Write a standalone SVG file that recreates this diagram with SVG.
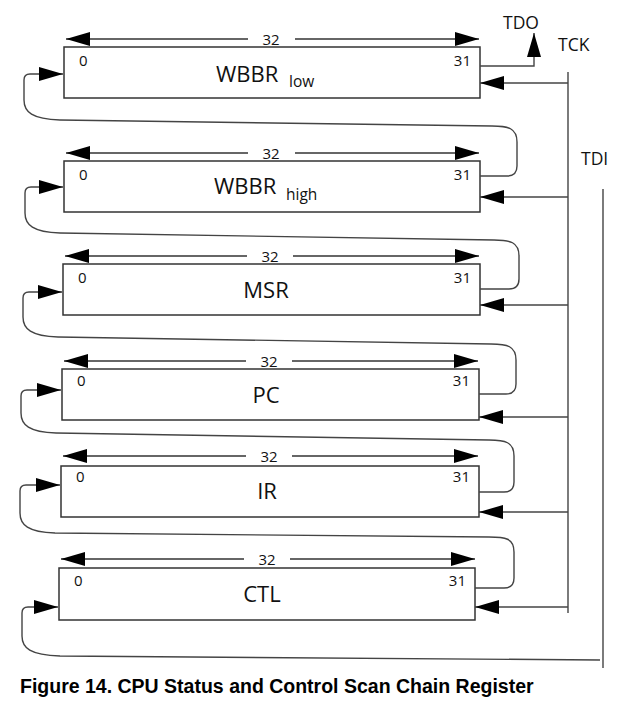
<svg xmlns="http://www.w3.org/2000/svg" width="625" height="710" viewBox="0 0 625 710">
<style>
.box{fill:#fff;stroke:#333;stroke-width:1.5}
.ln{fill:none;stroke:#444;stroke-width:1.4}
.ar{fill:none;stroke:#444;stroke-width:1.4;marker-end:url(#ah)}
.dim{fill:none;stroke:#333;stroke-width:1.3}
.t{font-family:"Open Sans","Noto Sans",sans-serif;fill:#111}
.n{font-size:15px}
.lb{font-size:22px;text-anchor:middle}
.sub{font-size:15.5px}
.sig{font-size:17.5px}
.cap{font-family:"Liberation Sans",Arial,sans-serif;font-weight:bold;font-size:19.5px;fill:#000}
</style>
<defs>
<marker id="ah" viewBox="0 0 24 14" refX="24" refY="7" markerWidth="24" markerHeight="14" markerUnits="userSpaceOnUse" orient="auto-start-reverse">
<path d="M0,0 L24,7 L0,14 z" fill="#000"/>
</marker>
</defs>

<g id="wbbr-low">
<rect class="box" x="64" y="47" width="416" height="51"/>
<line class="dim" x1="66" y1="39" x2="248" y2="39" marker-start="url(#ah)"/>
<line class="dim" x1="295" y1="39" x2="479" y2="39" marker-end="url(#ah)"/>
<text class="t n" x="271" y="45" text-anchor="middle">32</text>
<text class="t n" x="79" y="66">0</text>
<text class="t n" x="471" y="66" text-anchor="end">31</text>
<text class="t" x="216" y="82" font-size="22">WBBR</text>
<text class="t sub" x="289" y="87">low</text>
</g>

<g id="wbbr-high">
<rect class="box" x="64" y="161" width="416" height="51"/>
<line class="dim" x1="66" y1="153" x2="248" y2="153" marker-start="url(#ah)"/>
<line class="dim" x1="295" y1="153" x2="479" y2="153" marker-end="url(#ah)"/>
<text class="t n" x="271" y="159" text-anchor="middle">32</text>
<text class="t n" x="79" y="180">0</text>
<text class="t n" x="471" y="180" text-anchor="end">31</text>
<text class="t" x="214" y="194" font-size="22">WBBR</text>
<text class="t sub" x="286" y="200">high</text>
</g>

<g id="msr">
<rect class="box" x="63" y="264" width="417" height="51"/>
<line class="dim" x1="65" y1="256" x2="247" y2="256" marker-start="url(#ah)"/>
<line class="dim" x1="293" y1="256" x2="479" y2="256" marker-end="url(#ah)"/>
<text class="t n" x="270" y="262" text-anchor="middle">32</text>
<text class="t n" x="78" y="283">0</text>
<text class="t n" x="471" y="283" text-anchor="end">31</text>
<text class="t lb" x="266" y="298">MSR</text>
</g>

<g id="pc">
<rect class="box" x="62" y="369" width="417" height="51"/>
<line class="dim" x1="64" y1="361" x2="246" y2="361" marker-start="url(#ah)"/>
<line class="dim" x1="292" y1="361" x2="478" y2="361" marker-end="url(#ah)"/>
<text class="t n" x="269" y="367" text-anchor="middle">32</text>
<text class="t n" x="77" y="386">0</text>
<text class="t n" x="470" y="386" text-anchor="end">31</text>
<text class="t lb" x="266" y="403">PC</text>
</g>

<g id="ir">
<rect class="box" x="61" y="466" width="418" height="51"/>
<line class="dim" x1="63" y1="456" x2="246" y2="456" marker-start="url(#ah)"/>
<line class="dim" x1="292" y1="456" x2="478" y2="456" marker-end="url(#ah)"/>
<text class="t n" x="269" y="462" text-anchor="middle">32</text>
<text class="t n" x="76" y="482">0</text>
<text class="t n" x="470" y="482" text-anchor="end">31</text>
<text class="t lb" x="267" y="499">IR</text>
</g>

<g id="ctl">
<rect class="box" x="59" y="568" width="416" height="52"/>
<line class="dim" x1="61" y1="559" x2="244" y2="559" marker-start="url(#ah)"/>
<line class="dim" x1="290" y1="559" x2="475" y2="559" marker-end="url(#ah)"/>
<text class="t n" x="267" y="565" text-anchor="middle">32</text>
<text class="t n" x="74" y="586">0</text>
<text class="t n" x="466" y="586" text-anchor="end">31</text>
<text class="t lb" x="262" y="602">CTL</text>
</g>

<g id="signals">
<text class="t sig" x="503" y="29">TDO</text>
<text class="t sig" x="558" y="51">TCK</text>
<text class="t sig" x="581" y="165">TDI</text>
</g>

<g id="connectors">
<path class="ar" d="M480,66 H534 V33"/>
<line class="ln" x1="568" y1="72" x2="568" y2="613"/>
<line class="ar" x1="568" y1="83" x2="480" y2="83"/>
<line class="ar" x1="568" y1="197" x2="480" y2="197"/>
<line class="ar" x1="568" y1="305" x2="480" y2="305"/>
<line class="ar" x1="568" y1="417" x2="479" y2="417"/>
<line class="ar" x1="568" y1="512" x2="479" y2="512"/>
<line class="ar" x1="568" y1="607" x2="475" y2="607"/>
<line class="ln" x1="603" y1="189" x2="603" y2="668"/>
<path class="ar" d="M480,176 H507 Q517,176 517,166 V142 C517,128 508,126 492,126 L60,120 C32,119 24,112 24,100 V80 Q24,74 30,74 H63"/>
<path class="ar" d="M480,289 H509 Q519,289 519,279 V256 C519,242 510,240 494,240 L60,233 C33,232 25,225 25,213 V193 Q25,187 31,187 H63"/>
<path class="ar" d="M479,394 H506 Q516,394 516,384 V360 C516,346 507,344 491,344 L58,337 C31,336 23,329 23,317 V298 Q23,292 29,292 H62"/>
<path class="ar" d="M479,492 H504 Q514,492 514,482 V456 C514,442 505,440 489,440 L56,433 C29,432 21,425 21,413 V396 Q21,390 27,390 H61"/>
<path class="ar" d="M475,588 H504 Q514,588 514,578 V552 C514,538 505,537 489,537 L55,533 C28,532 20,525 20,513 V491 Q20,485 26,485 H60"/>
<path class="ar" d="M600,660 L60,656 C30,655 22,648 22,636 V613 Q22,607 28,607 H58"/>
</g>

<text class="cap" x="20" y="693">Figure 14. CPU Status and Control Scan Chain Register</text>
</svg>
